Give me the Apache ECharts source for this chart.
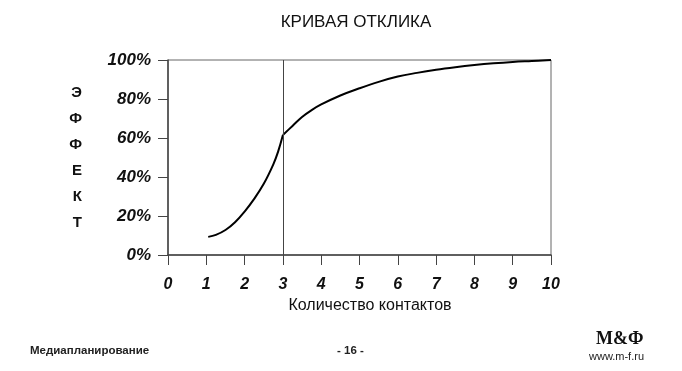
<!DOCTYPE html>
<html><head><meta charset="utf-8">
<script src="https://cdn.jsdelivr.net/npm/echarts@6/dist/echarts.min.js"></script>
<style>html,body{margin:0;padding:0;background:#fff}#c{width:682px;height:371px}</style>
</head><body><div id="c"></div>
<script>
// rising part of the curve (up to the marker at 3 contacts)
const riseX = [1.05, 1.25, 1.5, 1.75, 2, 2.25, 2.5, 2.75, 2.875, 3];
const riseY = [9.3, 10.3, 12.8, 16.8, 22.3, 28.8, 36.5, 46.5, 53, 61.5];
// saturating part of the curve (after 3 contacts)
const satX = [3, 3.25, 3.5, 3.75, 4, 4.5, 5, 5.5, 6, 6.5, 7, 7.5, 8, 8.5, 9, 9.5, 10];
const satY = [61.5, 66.2, 70.8, 74.3, 77.2, 81.8, 85.5, 88.8, 91.5, 93.4, 95, 96.3, 97.4, 98.3, 99, 99.5, 100];
const xTicks = [0,1,2,3,4,5,6,7,8,9,10];
const yTicks = [0,20,40,60,80,100];
const markerX = 3;

const FF = "'Liberation Sans', Arial, sans-serif";
const chart = echarts.init(document.getElementById('c'));
const lineStyle = {color:'#000', width:2};
chart.setOption({
  animation:false,
  backgroundColor:'#fff',
  title:{text:'КРИВАЯ ОТКЛИКА', left:351, textAlign:'center', top:9, textStyle:{fontFamily:FF, fontWeight:'normal', fontSize:17, color:'#111'}},
  grid:{left:168, right:131, top:60, bottom:116, show:true, borderColor:'#666', borderWidth:1},
  xAxis:{type:'value', min:0, max:10, interval:1,
    name:'Количество контактов', nameLocation:'middle', nameGap:41,
    nameTextStyle:{fontFamily:FF, fontSize:16, color:'#111', padding:[0,0,0,21]},
    axisLine:{lineStyle:{color:'#444', width:1.5}},
    axisTick:{show:true, length:10, lineStyle:{color:'#444'}},
    axisLabel:{margin:22, fontSize:16, fontFamily:FF, fontWeight:'bold', fontStyle:'italic', color:'#111',
      formatter:v=>xTicks.includes(v)?String(v):''},
    splitLine:{show:false}},
  yAxis:{type:'value', min:0, max:100, interval:20,
    name:'Э\nФ\nФ\nЕ\nК\nТ', nameLocation:'middle', nameRotate:0, nameGap:86,
    nameTextStyle:{fontFamily:FF, fontSize:15, fontWeight:'bold', color:'#111', lineHeight:26, padding:[21,0,0,0]},
    axisLine:{show:true, lineStyle:{color:'#444', width:1.5}},
    axisTick:{show:true, length:10, lineStyle:{color:'#444'}},
    axisLabel:{margin:17, fontSize:17, fontFamily:FF, fontWeight:'bold', fontStyle:'italic', color:'#111',
      formatter:v=>yTicks.includes(v)?v+'%':''},
    splitLine:{show:false}},
  series:[
    {type:'line', data:riseX.map((x,i)=>[x,riseY[i]]), smooth:0.4, showSymbol:false, lineStyle:lineStyle,
      markLine:{silent:true, symbol:'none', label:{show:false},
        lineStyle:{color:'#444', width:1, type:'solid'}, data:[{xAxis:markerX}]}},
    {type:'line', data:satX.map((x,i)=>[x,satY[i]]), smooth:0.4, showSymbol:false, lineStyle:lineStyle}
  ],
  graphic:[
    {type:'text', left:30, top:345, style:{text:'Медиапланирование', font:"bold 11.5px 'Liberation Sans'", fill:'#222'}},
    {type:'text', left:337, top:345, style:{text:'- 16 -', font:"bold 11.5px 'Liberation Sans'", fill:'#222'}},
    {type:'text', left:596, top:330, style:{text:'M&Ф', font:"bold 18px 'Liberation Serif'", fill:'#111'}},
    {type:'text', left:589, top:351, style:{text:'www.m-f.ru', font:"11px 'Liberation Sans'", fill:'#222'}}
  ]
});
</script></body></html>
